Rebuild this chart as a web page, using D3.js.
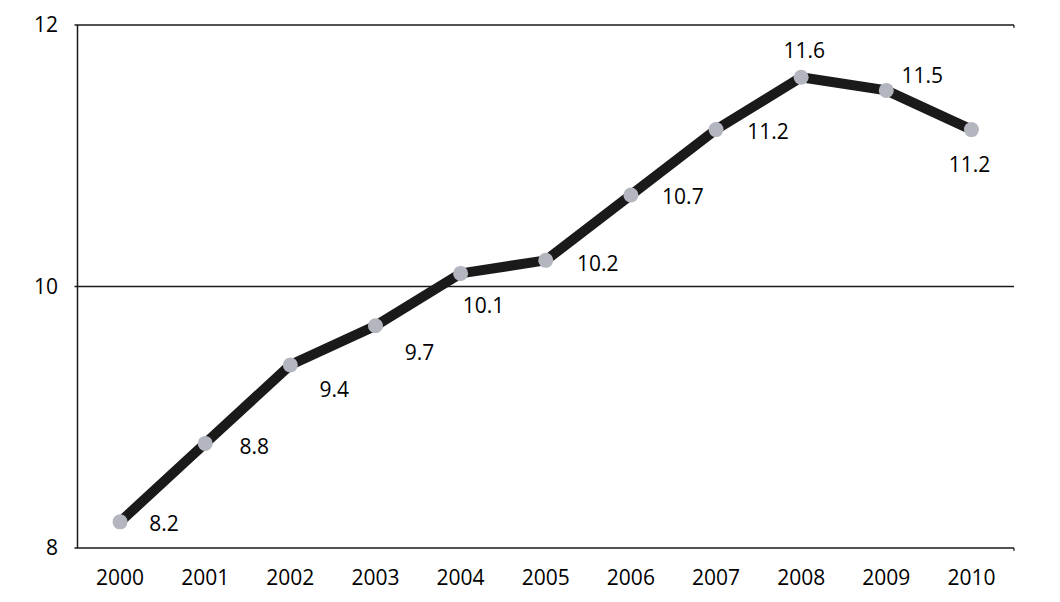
<!DOCTYPE html>
<html><head><meta charset="utf-8">
<script src="https://cdn.jsdelivr.net/npm/d3@7"></script>
<style>body{margin:0;background:#fff}svg{display:block}text{font-family:"Open Sans",sans-serif}</style>
</head><body>
<script>
const years = ["2000","2001","2002","2003","2004","2005","2006","2007","2008","2009","2010"];
const values = [8.2,8.8,9.4,9.7,10.1,10.2,10.7,11.2,11.6,11.5,11.2];
const yTicks = [8,10,12];
// label placement offsets (dx, dy) relative to each point
const labelDx = [44,49,44,44,23,52,52,52,3,36,-2];
const labelDy = [2,3,25,27,32,3,2,2,-27,-15,35];

const W=1060,H=602;
const m={left:77.5,right:46,top:25,bottom:54};
const svg=d3.select("body").append("svg").attr("width",W).attr("height",H);
const x=d3.scalePoint().domain(years).range([m.left,W-m.right]).padding(0.5);
const y=d3.scaleLinear().domain([8,12]).range([H-m.bottom,m.top]);

svg.append("g").selectAll("line").data(yTicks).join("line")
  .attr("x1",m.left-3).attr("x2",W-m.right)
  .attr("y1",d=>y(d)).attr("y2",d=>y(d))
  .attr("stroke","#1a1a1a").attr("stroke-width",1.5);
svg.append("g").selectAll("line").data([12,8]).join("line")
  .attr("x1",W-m.right).attr("x2",W-m.right)
  .attr("y1",d=>y(d)).attr("y2",d=>y(d)+3)
  .attr("stroke","#1a1a1a").attr("stroke-width",1.2);
svg.append("line").attr("x1",m.left).attr("x2",m.left)
  .attr("y1",y(12)).attr("y2",y(8)).attr("stroke","#1a1a1a").attr("stroke-width",1.5);

svg.append("g").selectAll("text").data(yTicks).join("text")
  .attr("x",58).attr("y",d=>y(d)).attr("dy","0.35em").attr("text-anchor","end")
  .attr("font-size",21).attr("fill","#000").text(d=>d);
svg.append("g").selectAll("text").data(years).join("text")
  .attr("x",d=>x(d)).attr("y",H-m.bottom+30).attr("dy","0.35em").attr("text-anchor","middle")
  .attr("font-size",21).attr("fill","#000").text(d=>d);

const pts=years.map((yr,i)=>({yr,v:values[i],i}));
svg.append("path").datum(pts)
  .attr("d",d3.line().x(d=>x(d.yr)).y(d=>y(d.v)))
  .attr("fill","none").attr("stroke","#1a1a1a").attr("stroke-width",10).attr("stroke-linejoin","miter");
svg.append("g").selectAll("circle").data(pts).join("circle")
  .attr("cx",d=>x(d.yr)).attr("cy",d=>y(d.v)).attr("r",7.5).attr("fill","#b3b6be");
svg.append("g").selectAll("text").data(pts).join("text")
  .attr("x",d=>x(d.yr)+labelDx[d.i]).attr("y",d=>y(d.v)+labelDy[d.i]).attr("dy","0.35em")
  .attr("text-anchor","middle").attr("font-size",21).attr("fill","#000").text(d=>d.v.toFixed(1));
</script>
</body></html>
